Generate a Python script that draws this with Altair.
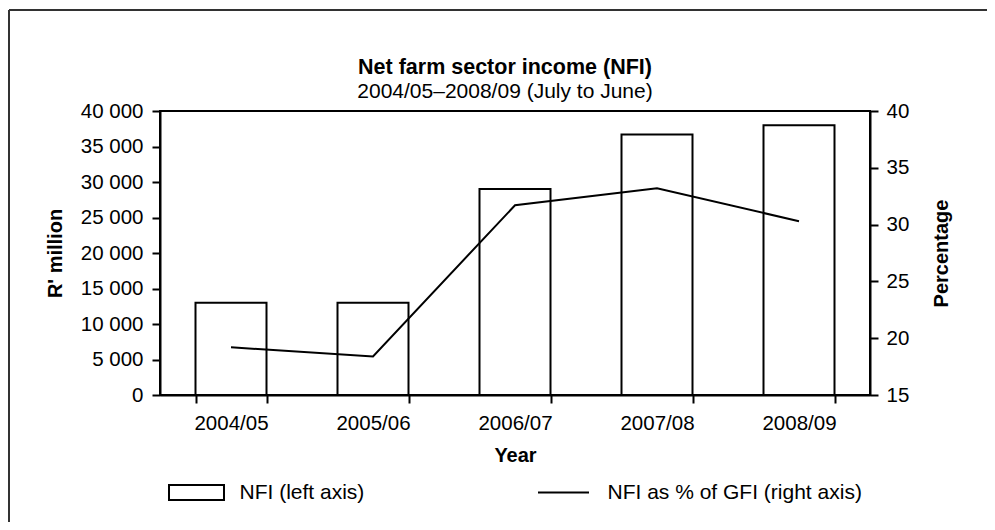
import altair as alt
import pandas as pd

years = ["2004/05", "2005/06", "2006/07", "2007/08", "2008/09"]
nfi = [13000, 13000, 29000, 36700, 38000]
pct = [19.2, 18.4, 31.7, 33.2, 30.3]
bar_label = "NFI (left axis)"
line_label = "NFI as % of GFI (right axis)"
left_ticks = [0, 5000, 10000, 15000, 20000, 25000, 30000, 35000, 40000]
right_ticks = [15, 20, 25, 30, 35, 40]

df = pd.DataFrame({"year": years, "nfi": nfi, "pct": pct})
df["s_bar"] = bar_label
df["s_line"] = line_label

FONT = "Liberation Sans"
W, H = 710, 284
PL, PT, PR, PB = 152, 103, 117, 127

base = alt.Chart(df)

xenc = alt.X("year:N", sort=years, title="Year",
             scale=alt.Scale(paddingInner=0.5, paddingOuter=0.25),
             axis=alt.Axis(labelAngle=0, tickBand="extent", tickSize=8,
                           labelPadding=10, titlePadding=12,
                           labelFontSize=20.5, titleFontSize=20,
                           titleFontWeight="bold"))

bars = base.mark_bar(fill="white", strokeWidth=2).encode(
    x=xenc,
    y=alt.Y("nfi:Q", title="R' million",
            scale=alt.Scale(domain=[0, 40000], nice=False),
            axis=alt.Axis(values=left_ticks, tickSize=8, labelPadding=9,
                          titlePadding=15, labelFontSize=20.5, titleFontSize=20,
                          titleFontWeight="bold",
                          labelExpr="replace(format(datum.value, ','), ',', ' ')")),
    stroke=alt.Stroke("s_bar:N", scale=alt.Scale(range=["black"]),
                      legend=alt.Legend(title=None, orient="none",
                                        legendX=20.5, legendY=365.5, padding=0,
                                        symbolType="M-1.833,-0.5H1.833V0.5H-1.833Z",
                                        symbolSize=900, symbolFillColor="white",
                                        symbolStrokeWidth=2, labelOffset=27,
                                        labelFontSize=21, labelFont=FONT,
                                        labelLimit=500, labelColor="black")),
)

line = base.mark_line(strokeWidth=2).encode(
    x=alt.X("year:N", sort=years),
    y=alt.Y("pct:Q", title="Percentage",
            scale=alt.Scale(domain=[15, 40], nice=False),
            axis=alt.Axis(orient="right", values=right_ticks, tickSize=8,
                          labelPadding=8, titlePadding=23, titleAngle=270,
                          titleBaseline="top",
                          labelFontSize=20.5, titleFontSize=20,
                          titleFontWeight="bold")),
    color=alt.Color("s_line:N", scale=alt.Scale(range=["black"]),
                    legend=alt.Legend(title=None, orient="none",
                                      legendX=387.5, legendY=365.5, padding=0,
                                      symbolType="M-1.7,0H1.7",
                                      symbolSize=900, symbolStrokeWidth=2,
                                      labelOffset=28, labelFontSize=21,
                                      labelLimit=500,
                                      labelFont=FONT, labelColor="black")),
)

frame_left = alt.Chart(df).mark_rule(color="#333", strokeWidth=1.5).encode(
    x=alt.value(-151), y=alt.value(-101), y2=alt.value(H + PB))
frame_top = alt.Chart(df).mark_rule(color="#333", strokeWidth=1.5).encode(
    x=alt.value(-151), x2=alt.value(W + PR), y=alt.value(-101))

chart = alt.layer(bars, line, frame_left, frame_top).resolve_scale(
    y="independent", stroke="independent", color="independent"
).properties(
    width=W, height=H,
    autosize=alt.AutoSizeParams(type="none"),
    padding={"left": PL, "top": PT, "right": PR, "bottom": PB},
    title=alt.TitleParams(
        text="Net farm sector income (NFI)",
        subtitle="2004/05\u20132008/09  (July to June)",
        fontSize=21.5, subtitleFontSize=21, font=FONT, subtitleFont=FONT,
        fontWeight="bold", color="black", subtitleColor="black",
        anchor="middle", dx=-10, offset=-93, subtitlePadding=3,
    ),
).configure(
    font=FONT, background="white"
).configure_view(
    stroke="black", strokeWidth=2
).configure_axis(
    grid=False, domainColor="black", domainWidth=2, tickColor="black",
    tickWidth=2, labelColor="black", titleColor="black",
    labelFont=FONT, titleFont=FONT
)

chart.save("out.html", embed_options={"renderer": "svg", "actions": False})
